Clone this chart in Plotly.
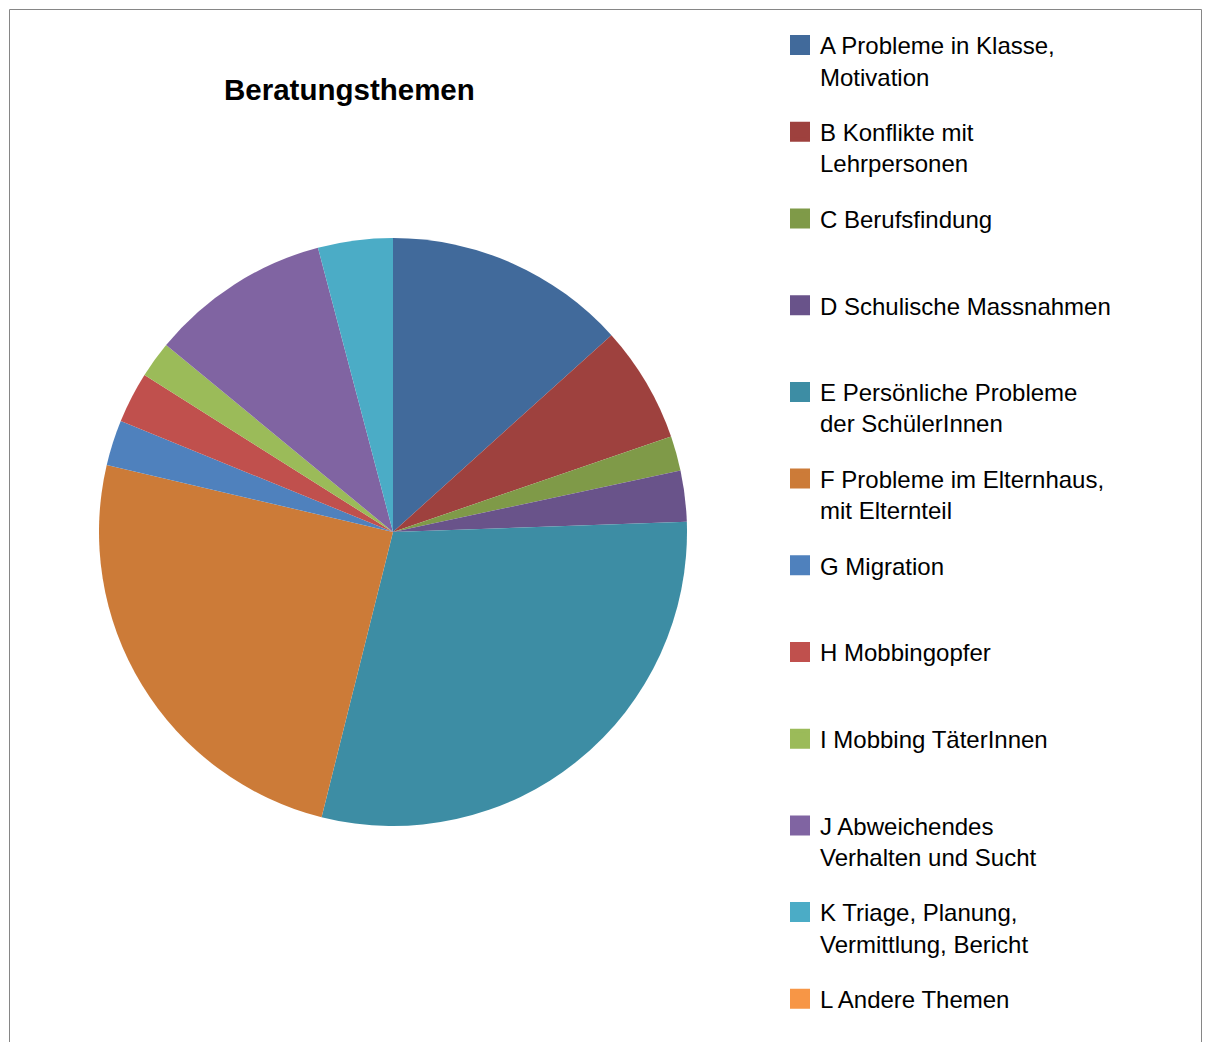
import plotly.graph_objects as go

# Beratungsthemen (Anteile in %)
themen = [
    "A Probleme in Klasse,<br>Motivation",
    "B Konflikte mit<br>Lehrpersonen",
    "C Berufsfindung",
    "D Schulische Massnahmen",
    "E Persönliche Probleme<br>der SchülerInnen",
    "F Probleme im Elternhaus,<br>mit Elternteil",
    "G Migration",
    "H Mobbingopfer",
    "I Mobbing TäterInnen",
    "J Abweichendes<br>Verhalten und Sucht",
    "K Triage, Planung,<br>Vermittlung, Bericht",
    "L Andere Themen",
]
anteile = [13.3, 6.4, 1.9, 2.8, 29.4, 24.7, 2.5, 2.8, 2.0, 9.9, 4.1, 0]
farben = [
    "#416A9B", "#9E413E", "#7F9A48", "#69538A", "#3D8DA4", "#CC7B38",
    "#4F81BD", "#C0504D", "#9BBB59", "#8064A2", "#4BACC6", "#F79646",
]

W, H = 1194, 1034

cx, cy, r = 385, 524, 294
fig = go.Figure()
fig.add_trace(go.Pie(
    labels=themen,
    values=anteile,
    marker=dict(colors=farben),
    sort=False,
    direction="clockwise",
    rotation=0,
    textinfo="none",
    hoverinfo="label+percent",
    showlegend=False,
    domain=dict(x=[(cx - r) / W, (cx + r) / W],
                y=[(H - cy - r) / H, (H - cy + r) / H]),
))

# legend entries (one group per theme, padded to two lines for even spacing;
# the last one needs no padding)
for i, (name, col) in enumerate(zip(themen, farben)):
    label = name
    if "<br>" not in name and i < len(themen) - 1:
        label = name + "<br>\u00a0"
    fig.add_trace(go.Scatter(
        x=[None], y=[None], mode="markers", name=label, legendgroup=name,
        marker=dict(symbol="square", size=16, color=col,
                    line=dict(color=col, width=4)),
        hoverinfo="skip",
    ))

fig.add_annotation(
    text="<b>Beratungsthemen</b>", xref="paper", yref="paper",
    x=341.5 / W, y=1 - 81 / H, xanchor="center", yanchor="middle",
    showarrow=False, font=dict(size=29.5, color="#000000"),
)

# chart frame
fig.add_shape(type="rect", xref="paper", yref="paper",
              x0=1.5 / W, x1=(W - 0.5) / W, y0=-0.05, y1=1 - 1.5 / H,
              line=dict(color="#868686", width=1), fillcolor="rgba(0,0,0,0)")

fig.update_layout(
    width=W, height=H,
    margin=dict(l=0, r=0, t=0, b=0),
    paper_bgcolor="white", plot_bgcolor="white",
    xaxis=dict(visible=False), yaxis=dict(visible=False),
    font=dict(family="Liberation Sans, Arial, sans-serif", color="#000000"),
    showlegend=True,
    legend=dict(
        x=772 / W, y=1 - 15 / H, xanchor="left", yanchor="top",
        font=dict(size=24, color="#000000"),
        valign="top", traceorder="grouped", tracegroupgap=21.3,
        bgcolor="rgba(0,0,0,0)", maxheight=1100,
    ),
)

fig.write_html("out.html")
